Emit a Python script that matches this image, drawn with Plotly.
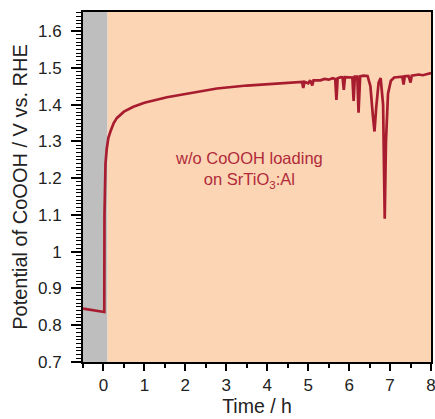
import plotly.graph_objects as go

# Data
time_h = [-0.5, -0.3, -0.1, 0.02, 0.025, 0.03, 0.05, 0.08, 0.12, 0.17, 0.25, 0.33, 0.5, 0.73,
          1.0, 1.55, 2.0, 2.77, 3.5, 4.0, 4.5, 4.8,
          4.85, 4.88, 4.91, 5.0, 5.05, 5.1, 5.13, 5.3, 5.4, 5.5, 5.6, 5.66, 5.69, 5.72,
          5.8, 5.84, 5.87, 5.9, 6.0, 6.08, 6.11, 6.14, 6.2, 6.23, 6.27, 6.35, 6.45,
          6.52, 6.58, 6.62, 6.66, 6.72, 6.77, 6.83, 6.87, 6.9, 6.95, 7.02, 7.1, 7.2,
          7.3, 7.33, 7.36, 7.45, 7.5, 7.53, 7.6, 7.7, 7.8, 7.9, 8.0]
potential = [0.845, 0.842, 0.838, 0.836, 1.10, 1.17, 1.24, 1.28, 1.31, 1.327, 1.35, 1.364, 1.381, 1.394,
             1.405, 1.42, 1.429, 1.444, 1.452, 1.456, 1.460, 1.463,
             1.462, 1.445, 1.462, 1.458, 1.466, 1.452, 1.466, 1.466, 1.470, 1.468, 1.472, 1.470, 1.413, 1.472,
             1.475, 1.474, 1.440, 1.475, 1.474, 1.474, 1.410, 1.476, 1.476, 1.378, 1.477, 1.479, 1.478,
             1.450, 1.370, 1.327, 1.390, 1.460, 1.472, 1.400, 1.090, 1.300, 1.430, 1.465, 1.474, 1.475,
             1.476, 1.455, 1.477, 1.478, 1.460, 1.479, 1.480, 1.482, 1.480, 1.484, 1.486]

x_range = [-0.5, 8]
y_range = [0.7, 1.652]
gray_end = 0.1

annot_x, annot_y = 3.55, 1.222
annot_text = "w/o CoOOH loading<br>on SrTiO<sub>3</sub>:Al"

line_color = "#A81C2F"
font_family = "Arial, Liberation Sans, sans-serif"

fig = go.Figure()
fig.add_shape(type="rect", xref="x", yref="y", x0=x_range[0], x1=gray_end,
              y0=y_range[0], y1=y_range[1], fillcolor="#BEBEBE", line_width=0, layer="below")
fig.add_shape(type="rect", xref="x", yref="y", x0=gray_end, x1=x_range[1],
              y0=y_range[0], y1=y_range[1], fillcolor="#FCD5B4", line_width=0, layer="below")

fig.add_trace(go.Scatter(x=time_h, y=potential, mode="lines",
                         line=dict(color=line_color, width=2.7), showlegend=False))

fig.add_annotation(x=annot_x, y=annot_y, xref="x", yref="y", text=annot_text,
                   showarrow=False, font=dict(family=font_family, size=16.5, color="#B02A3A"),
                   align="center")

fig.update_layout(
    width=435, height=419,
    margin=dict(l=83, r=4, t=12, b=57),
    paper_bgcolor="white", plot_bgcolor="white",
    font=dict(family=font_family, size=17, color="#222222"),
)
fig.update_xaxes(range=x_range, tickmode="linear", tick0=0, dtick=1, automargin=False,
                 ticklabeloverflow="allow",
                 ticks="outside", ticklen=7, tickwidth=2, tickcolor="black",
                 tickfont=dict(size=17),
                 showline=True, linecolor="black", linewidth=2, mirror=True,
                 showgrid=False, zeroline=False,
                 minor=dict(dtick=0.5, tick0=0, ticks="outside", ticklen=4, tickwidth=1.5, tickcolor="black"),
                 title=dict(text="Time / h", standoff=3, font=dict(size=19.5)))
fig.update_yaxes(range=y_range, tickmode="linear", tick0=0.7, dtick=0.1, automargin=False,
                 ticks="outside", ticklen=10, tickwidth=2, tickcolor="black",
                 tickfont=dict(size=17), ticklabelstandoff=6,
                 showline=True, linecolor="black", linewidth=2, mirror=True,
                 showgrid=False, zeroline=False,
                 minor=dict(dtick=0.01, tick0=0.7, ticks="outside", ticklen=5, tickwidth=1, tickcolor="black"),
                 title=dict(text="Potential of CoOOH / V vs. RHE", standoff=5, font=dict(size=20)))

fig.write_html("out.html")
